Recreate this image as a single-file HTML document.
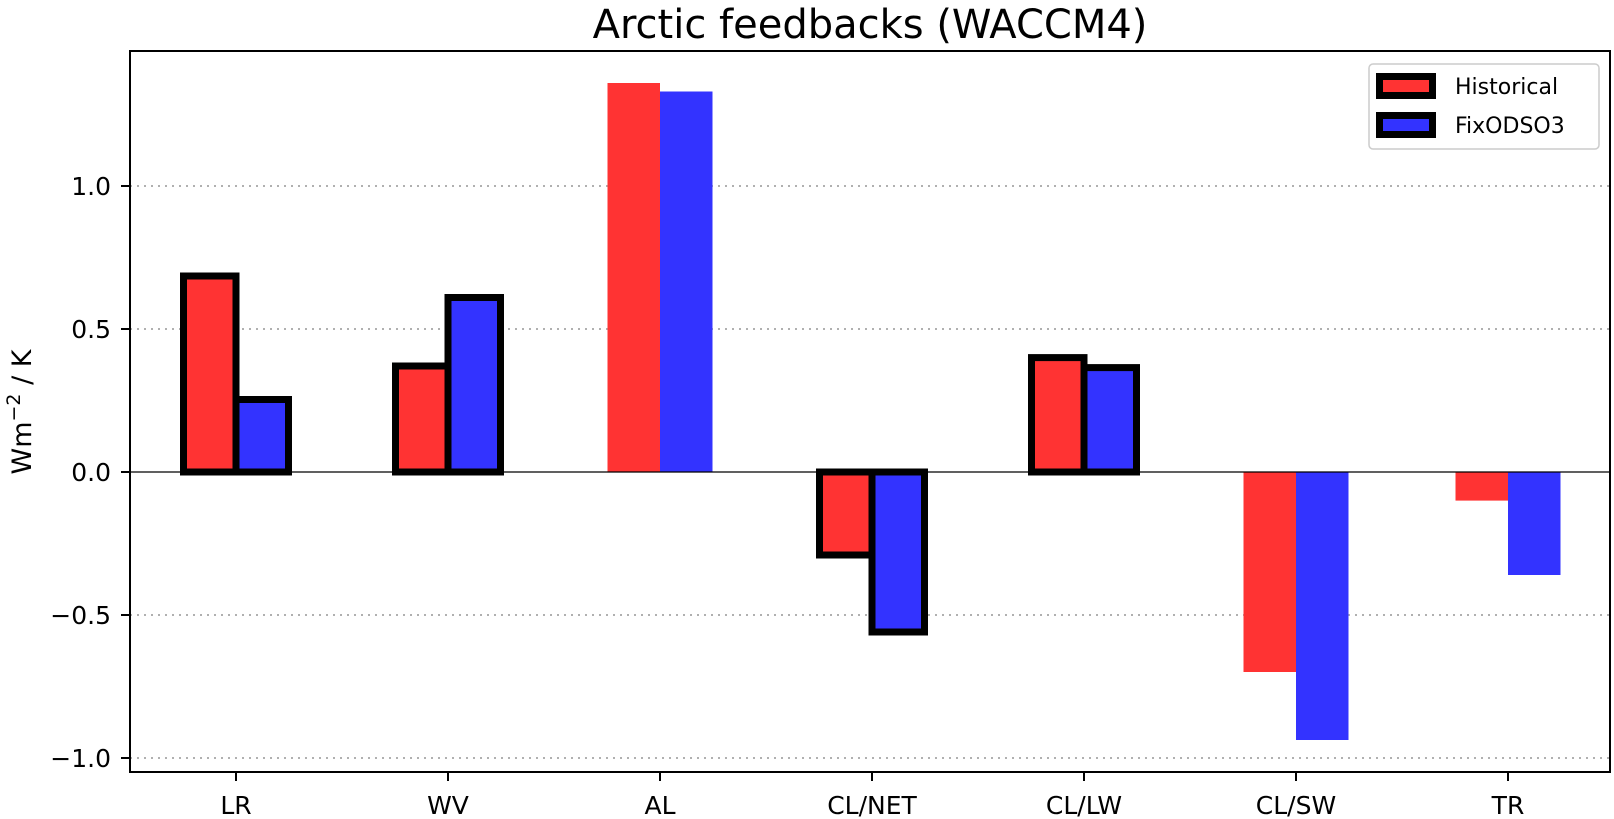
<!DOCTYPE html>
<html><head><meta charset="utf-8"><style>
html,body{margin:0;padding:0;background:#fff;}
svg{display:block;font-family:"DejaVu Sans","Liberation Sans",sans-serif;}
</style></head><body>
<svg width="1614" height="819" viewBox="0 0 1614 819" xmlns="http://www.w3.org/2000/svg">
<text x="870" y="38" font-size="40" text-anchor="middle">Arctic feedbacks (WACCM4)</text>
<!-- grid -->
<g stroke="#b0b0b0" stroke-width="2" stroke-dasharray="2,5">
<line x1="130" x2="1610" y1="186" y2="186"/>
<line x1="130" x2="1610" y1="329" y2="329"/>
<line x1="130" x2="1610" y1="615" y2="615"/>
<line x1="130" x2="1610" y1="758" y2="758"/>
</g>
<!-- bars -->
<g>
<!-- LR -->
<rect x="183.5" y="276" width="52.5" height="196" fill="#ff3333" stroke="#000" stroke-width="7"/>
<rect x="236" y="399.5" width="52.5" height="72.5" fill="#3333ff" stroke="#000" stroke-width="7"/>
<!-- WV -->
<rect x="395.5" y="366" width="52.5" height="106" fill="#ff3333" stroke="#000" stroke-width="7"/>
<rect x="448" y="297.5" width="52.5" height="174.5" fill="#3333ff" stroke="#000" stroke-width="7"/>
<!-- AL -->
<rect x="607.5" y="83" width="52.5" height="389" fill="#ff3333"/>
<rect x="660" y="91.5" width="52.5" height="380.5" fill="#3333ff"/>
<!-- CL/NET -->
<rect x="819.5" y="472" width="52.5" height="83" fill="#ff3333" stroke="#000" stroke-width="7"/>
<rect x="872" y="472" width="52.5" height="160" fill="#3333ff" stroke="#000" stroke-width="7"/>
<!-- CL/LW -->
<rect x="1031.5" y="357.6" width="52.5" height="114.4" fill="#ff3333" stroke="#000" stroke-width="7"/>
<rect x="1084" y="367.6" width="52.5" height="104.4" fill="#3333ff" stroke="#000" stroke-width="7"/>
<!-- CL/SW -->
<rect x="1243.5" y="472" width="52.5" height="200" fill="#ff3333"/>
<rect x="1296" y="472" width="52.5" height="268" fill="#3333ff"/>
<!-- TR -->
<rect x="1455.5" y="472" width="52.5" height="28.6" fill="#ff3333"/>
<rect x="1508" y="472" width="52.5" height="103" fill="#3333ff"/>
</g>
<line x1="130" x2="1610" y1="472" y2="472" stroke="#000" stroke-width="1.3"/>
<!-- axes -->
<rect x="130" y="51" width="1480" height="721" fill="none" stroke="#000" stroke-width="2"/>
<!-- y ticks -->
<g stroke="#000" stroke-width="2">
<line x1="121" x2="130" y1="186" y2="186"/>
<line x1="121" x2="130" y1="329" y2="329"/>
<line x1="121" x2="130" y1="472" y2="472"/>
<line x1="121" x2="130" y1="615" y2="615"/>
<line x1="121" x2="130" y1="758" y2="758"/>
<line x1="236" x2="236" y1="772" y2="781"/>
<line x1="448" x2="448" y1="772" y2="781"/>
<line x1="660" x2="660" y1="772" y2="781"/>
<line x1="872" x2="872" y1="772" y2="781"/>
<line x1="1084" x2="1084" y1="772" y2="781"/>
<line x1="1296" x2="1296" y1="772" y2="781"/>
<line x1="1508" x2="1508" y1="772" y2="781"/>
</g>
<g font-size="25" text-anchor="end">
<text x="111" y="195">1.0</text>
<text x="111" y="338">0.5</text>
<text x="111" y="481">0.0</text>
<text x="111" y="624">−0.5</text>
<text x="111" y="767">−1.0</text>
</g>
<g font-size="25" text-anchor="middle">
<text x="236" y="814">LR</text>
<text x="448" y="814">WV</text>
<text x="660" y="814">AL</text>
<text x="872" y="814">CL/NET</text>
<text x="1084" y="814">CL/LW</text>
<text x="1296" y="814">CL/SW</text>
<text x="1508" y="814">TR</text>
</g>
<text transform="translate(31,412) rotate(-90)" font-size="27" text-anchor="middle">Wm<tspan font-size="19" dy="-11">−2</tspan><tspan dy="11"> / K</tspan></text>
<!-- legend -->
<rect x="1369" y="64" width="230" height="85" rx="4" fill="#fff" stroke="#cccccc" stroke-width="1.5"/>
<rect x="1379.5" y="76.5" width="53" height="19" fill="#ff3333" stroke="#000" stroke-width="7"/>
<rect x="1379.5" y="115.5" width="53" height="19" fill="#3333ff" stroke="#000" stroke-width="7"/>
<g font-size="22">
<text x="1455" y="94">Historical</text>
<text x="1455" y="133">FixODSO3</text>
</g>
</svg>
</body></html>
